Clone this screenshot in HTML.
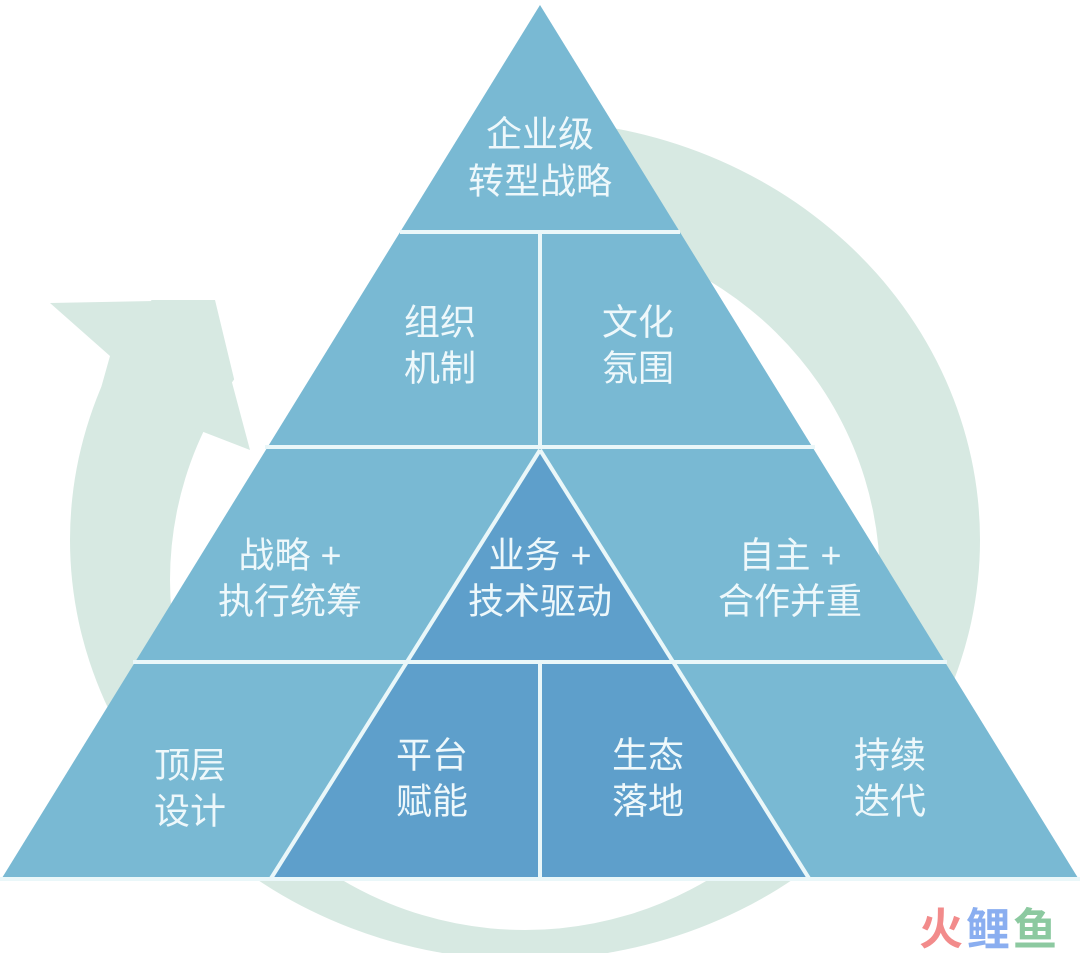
<!DOCTYPE html>
<html><head><meta charset="utf-8"><style>
html,body{margin:0;padding:0;background:#fff;}
svg{display:block;}
text{font-family:"Liberation Sans","Noto Sans CJK SC",sans-serif;fill:#eef8fb;font-size:36px;text-anchor:middle;dominant-baseline:central;}
</style></head><body>
<svg width="1080" height="953" viewBox="0 0 1080 953" xmlns="http://www.w3.org/2000/svg">
<!-- ring -->
<path fill="#d7e9e2" fill-rule="evenodd" d="M70,540 A455,420 0 1,0 980,540 A455,420 0 1,0 70,540 Z M170,580 A355,350 0 1,0 880,580 A355,350 0 1,0 170,580 Z"/>
<!-- gap cover -->
<polygon fill="#fff" points="60,0 612,0 612,118 560,128 420,220 250,445 215,300 60,300"/>
<!-- arrowhead -->
<polygon fill="#d7e9e2" points="50,303 210,300 250,450 188,426 172,470 78,470 110,356"/>
<!-- big triangle -->
<polygon fill="#79b9d3" points="540,5 1078,878 2,878"/>
<!-- dark inner triangle + trapezoid -->
<polygon fill="#5e9fcb" points="540,450 810,878 270,878"/>
<g stroke="#eaf7f9" stroke-width="4" fill="none">
<line x1="400" y1="232" x2="680" y2="232"/>
<line x1="265" y1="447" x2="815" y2="447"/>
<line x1="133" y1="662" x2="947" y2="662"/>
<line x1="540" y1="232" x2="540" y2="447"/>
<line x1="540" y1="662" x2="540" y2="878"/>
<line x1="540" y1="450" x2="270" y2="880"/>
<line x1="540" y1="450" x2="810" y2="880"/>
<line x1="0" y1="879" x2="1080" y2="879"/>
</g>
<text x="540" y="134">企业级</text>
<text x="540" y="181">转型战略</text>
<text x="440" y="322">组织</text>
<text x="440" y="368">机制</text>
<text x="638" y="322">文化</text>
<text x="638" y="368">氛围</text>
<text x="290" y="555">战略 +</text>
<text x="290" y="601">执行统筹</text>
<text x="540" y="555">业务 +</text>
<text x="540" y="601">技术驱动</text>
<text x="790" y="555">自主 +</text>
<text x="790" y="601">合作并重</text>
<text x="190" y="765">顶层</text>
<text x="190" y="811">设计</text>
<text x="432" y="755">平台</text>
<text x="432" y="801">赋能</text>
<text x="648" y="755">生态</text>
<text x="648" y="801">落地</text>
<text x="890" y="755">持续</text>
<text x="890" y="801">迭代</text>
<text x="941" y="930" style="fill:#f28b8b;font-size:44px;font-weight:bold">火</text>
<text x="988" y="930" style="fill:#8aaef0;font-size:44px;font-weight:bold">鲤</text>
<text x="1035" y="930" style="fill:#8cc9a0;font-size:44px;font-weight:bold">鱼</text>
</svg>
</body></html>
